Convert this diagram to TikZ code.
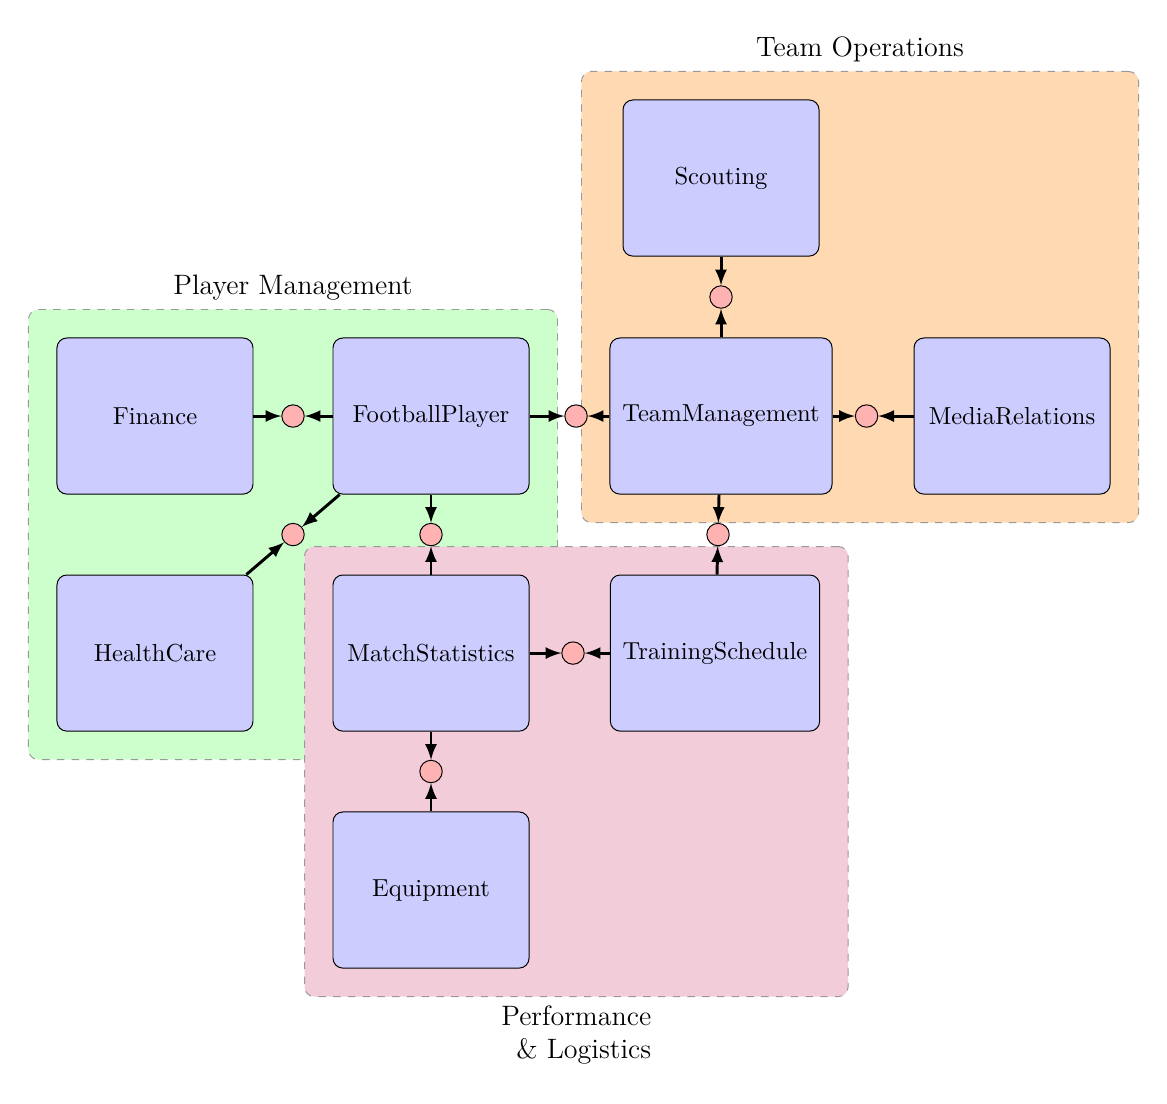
\documentclass[tikz,border=0pt]{standalone}
\usepackage{amsmath,amssymb}
\usepackage{tikz}
\usetikzlibrary{fit,backgrounds}

\begin{document}
\begin{tikzpicture}[very thick,-latex]
    \tikzstyle{box}=[rectangle,draw=black,thin,fill=blue!20,rounded corners,inner sep=5pt,minimum width=2.8cm,minimum height=2.23cm]
    \tikzstyle{dot}=[circle,draw=black,thin,fill=red!30,minimum size=0.32cm,inner sep=0pt]
    \tikzstyle{group}=[rectangle,draw=black!40,thin,dashed,rounded corners,inner sep=0.4cm]
    \tikzstyle{group label}=[font=\fontsize{11.4}{13.5}\selectfont]
    \useasboundingbox (0,0) rectangle (16.671,-15.757);
    \node[box] (B_finance) at (2.214,-5.943) {Finance};
    \node[box] (B_player) at (6.157,-5.943) {FootballPlayer};
    \node[box] (B_team) at (10.3,-5.943) {TeamManagement};
    \node[box] (B_media) at (14.457,-5.943) {MediaRelations};
    \node[box] (B_scout) at (10.3,-2.543) {Scouting};
    \node[box] (B_health) at (2.214,-9.329) {HealthCare};
    \node[box] (B_stats) at (6.157,-9.329) {MatchStatistics};
    \node[box] (B_train) at (10.214,-9.329) {TrainingSchedule};
    \node[box] (B_equip) at (6.157,-12.714) {Equipment};
    \node[dot] (C_1) at (4.186,-5.943) {};
    \node[dot] (C_2) at (8.229,-5.943) {};
    \node[dot] (C_3) at (12.379,-5.943) {};
    \node[dot] (C_4) at (10.3,-4.243) {};
    \node[dot] (C_5) at (4.186,-7.636) {};
    \node[dot] (C_6) at (6.157,-7.636) {};
    \node[dot] (C_7) at (10.257,-7.636) {};
    \node[dot] (C_8) at (8.186,-9.329) {};
    \node[dot] (C_9) at (6.157,-11.021) {};
    \begin{scope}[on background layer]
    \node[group,fill=green!20,fit=(B_finance)(B_player)(B_health),label={[group label]above:Player Management}] (G_player) {};
    \node[group,fill=orange!30,fit=(B_scout)(B_team)(B_media),label={[group label]above:Team Operations}] (G_team) {};
    \node[group,fill=purple!20,fit=(B_stats)(B_train)(B_equip),label={[group label,align=right]below:Performance\\ \& Logistics}] (G_perf) {};
    \end{scope}
    \draw (B_finance) -- (C_1);
    \draw (B_player) -- (C_1);
    \draw (B_player) -- (C_2);
    \draw (B_team) -- (C_2);
    \draw (B_team) -- (C_3);
    \draw (B_media) -- (C_3);
    \draw (B_scout) -- (C_4);
    \draw (B_team) -- (C_4);
    \draw (B_player) -- (C_5);
    \draw (B_health) -- (C_5);
    \draw (B_player) -- (C_6);
    \draw (B_stats) -- (C_6);
    \draw (B_team) -- (C_7);
    \draw (B_train) -- (C_7);
    \draw (B_stats) -- (C_8);
    \draw (B_train) -- (C_8);
    \draw (B_stats) -- (C_9);
    \draw (B_equip) -- (C_9);
\end{tikzpicture}
\end{document}
